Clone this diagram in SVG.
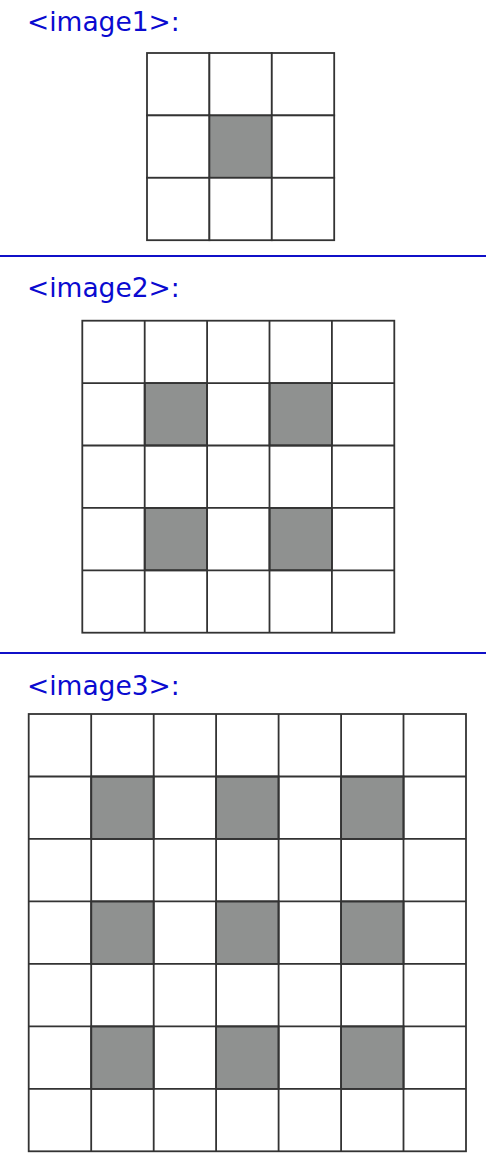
<svg xmlns="http://www.w3.org/2000/svg" width="486" height="1165" viewBox="0 0 486 1165">
<style>
.lbl{font-family:"DejaVu Sans",sans-serif;font-size:26.5px;fill:#0a0ad0}
.sep{stroke:#1010c8;stroke-width:2}
.c{fill:#fff;stroke:#333;stroke-width:1.8}
.g{fill:#8f9190;stroke:#333;stroke-width:1.8}
</style>
<rect width="486" height="1165" fill="#fff"/>
<text class="lbl" x="27" y="31">&lt;image1&gt;:</text>
<line class="sep" x1="0" y1="256" x2="486" y2="256"/>
<text class="lbl" x="27" y="297">&lt;image2&gt;:</text>
<line class="sep" x1="0" y1="653" x2="486" y2="653"/>
<text class="lbl" x="27" y="695">&lt;image3&gt;:</text>
<g id="grid1">
<rect class="c" x="147" y="53" width="62.4" height="62.4"/><rect class="c" x="209.4" y="53" width="62.4" height="62.4"/><rect class="c" x="271.8" y="53" width="62.4" height="62.4"/>
<rect class="c" x="147" y="115.4" width="62.4" height="62.4"/><rect class="g" x="209.4" y="115.4" width="62.4" height="62.4"/><rect class="c" x="271.8" y="115.4" width="62.4" height="62.4"/>
<rect class="c" x="147" y="177.8" width="62.4" height="62.4"/><rect class="c" x="209.4" y="177.8" width="62.4" height="62.4"/><rect class="c" x="271.8" y="177.8" width="62.4" height="62.4"/>
</g>
<g id="grid2">
<rect class="c" x="82.3" y="320.7" width="312" height="312"/>
<rect class="g" x="144.7" y="383.1" width="62.4" height="62.4"/><rect class="g" x="269.5" y="383.1" width="62.4" height="62.4"/>
<rect class="g" x="144.7" y="507.9" width="62.4" height="62.4"/><rect class="g" x="269.5" y="507.9" width="62.4" height="62.4"/>
<path d="M144.7 320.7V632.7M207.1 320.7V632.7M269.5 320.7V632.7M331.9 320.7V632.7M82.3 383.1H394.3M82.3 445.5H394.3M82.3 507.9H394.3M82.3 570.3H394.3" stroke="#333" stroke-width="1.8" fill="none"/>
</g>
<g id="grid3">
<rect class="c" x="28.7" y="714" width="437.3" height="437.3"/>
<rect class="g" x="91.2" y="776.5" width="62.5" height="62.5"/><rect class="g" x="216.1" y="776.5" width="62.5" height="62.5"/><rect class="g" x="341.1" y="776.5" width="62.5" height="62.5"/>
<rect class="g" x="91.2" y="901.4" width="62.5" height="62.5"/><rect class="g" x="216.1" y="901.4" width="62.5" height="62.5"/><rect class="g" x="341.1" y="901.4" width="62.5" height="62.5"/>
<rect class="g" x="91.2" y="1026.4" width="62.5" height="62.5"/><rect class="g" x="216.1" y="1026.4" width="62.5" height="62.5"/><rect class="g" x="341.1" y="1026.4" width="62.5" height="62.5"/>
<path d="M91.2 714V1151.3M153.7 714V1151.3M216.1 714V1151.3M278.6 714V1151.3M341.1 714V1151.3M403.5 714V1151.3M28.7 776.5H466M28.7 838.9H466M28.7 901.4H466M28.7 963.9H466M28.7 1026.4H466M28.7 1088.8H466" stroke="#333" stroke-width="1.8" fill="none"/>
</g>
</svg>
